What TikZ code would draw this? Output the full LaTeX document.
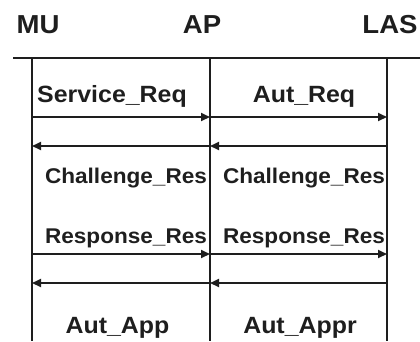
\documentclass[tikz,border=0pt]{standalone}
\usepackage{fontspec}
\usetikzlibrary{arrows.meta}
\newfontfamily\labfont{Liberation Sans}[FakeStretch=1.06]
\definecolor{ink}{HTML}{1E1E1E}
\begin{document}
\begin{tikzpicture}[x=1pt,y=-1pt,
  ink/.style={draw=ink,line width=2pt},
  lifeline/.style={ink},
  msg/.style={ink,-{Triangle[length=9pt,width=8pt]}},
  party/.style={anchor=base,inner sep=0pt,text=ink,
    font=\labfont\bfseries\fontsize{26}{28}\selectfont},
  label/.style={anchor=base,inner sep=0pt,text=ink,
    font=\labfont\bfseries\fontsize{23.5}{26}\selectfont},
  smalllabel/.style={anchor=base,inner sep=0pt,text=ink,
    font=\labfont\bfseries\fontsize{21.3}{24}\selectfont}]
  \useasboundingbox (0,0) rectangle (420,341);
  % participants
  \node[party] (mu)  at (38,33)  {MU};
  \node[party] (ap)  at (202,33) {AP};
  \node[party] (las) at (390,33) {LAS};
  % header rule
  \coordinate (hl) at (13,58);
  \coordinate (hr) at (420,58);
  \draw[ink] (hl) -- (hr);
  % lifelines
  \coordinate (muT) at (32,58);   \coordinate (muB) at (32,341);
  \coordinate (apT) at (210,58);  \coordinate (apB) at (210,341);
  \coordinate (lasT) at (387,58); \coordinate (lasB) at (387,341);
  \draw[lifeline] (muT) -- (muB);
  \draw[lifeline] (apT) -- (apB);
  \draw[lifeline] (lasT) -- (lasB);
  % message end points on the lifelines
  \foreach \n/\y in {1/117,2/146,3/254,4/283}{
    \coordinate (mu\n) at (32,\y);
    \coordinate (ap\n) at (210,\y);
    \coordinate (las\n) at (387,\y);
  }
  % messages
  \draw[msg] (mu1) -- (ap1);
  \draw[msg] (ap1) -- (las1);
  \draw[msg] (ap2) -- (mu2);
  \draw[msg] (las2) -- (ap2);
  \draw[msg] (mu3) -- (ap3);
  \draw[msg] (ap3) -- (las3);
  \draw[msg] (ap4) -- (mu4);
  \draw[msg] (las4) -- (ap4);
  % message labels
  \node[label] (sreq) at (112,102) {Service\_Req};
  \node[label] (areq) at (304,102) {Aut\_Req};
  \node[smalllabel] (chl) at (126,183) {Challenge\_Res};
  \node[smalllabel] (chr) at (304,183) {Challenge\_Res};
  \node[smalllabel] (rsl) at (126,243) {Response\_Res};
  \node[smalllabel] (rsr) at (304,243) {Response\_Res};
  \node[label] (aapp) at (117.5,333) {Aut\_App};
  \node[label] (aappr) at (300,333) {Aut\_Appr};
\end{tikzpicture}
\end{document}
